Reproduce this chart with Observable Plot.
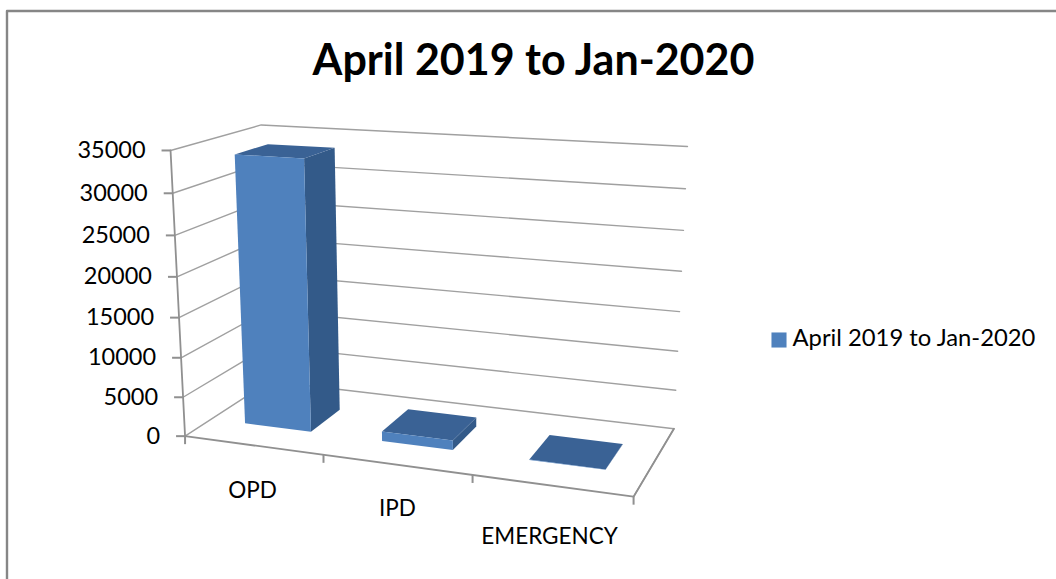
<!DOCTYPE html>
<html>
<head>
<meta charset="utf-8">
<script src="https://cdn.jsdelivr.net/npm/d3@7"></script>
<script src="https://cdn.jsdelivr.net/npm/@observablehq/plot@0.6"></script>
<style>html,body{margin:0;padding:0;background:#fff;overflow:hidden}svg{display:block}</style>
</head>
<body>
<div id="chart"></div>
<script>
const chartTitle = "April 2019 to Jan-2020";
const categories = ["OPD", "IPD", "EMERGENCY"];
const values = [33800, 1200, 60];
const valueTicks = [0, 5000, 10000, 15000, 20000, 25000, 30000, 35000];
const valueMax = 35000;

// Camera calibration: [category position, value, depth] -> picture position.
const camera = [
  [0, 0, 0, 184, 435.7], [1, 0, 0, 322.7, 455], [2, 0, 0, 472, 475], [3, 0, 0, 633, 496],
  [0, 35000, 0, 170, 150], [0, 30000, 0, 173, 192.7], [0, 25000, 0, 174, 235], [0, 20000, 0, 176.7, 276],
  [0, 5000, 0, 183, 396],
  [0, 0, 1, 269.7, 381], [3, 0, 1, 673, 428], [0, 35000, 1, 260, 124.5], [3, 35000, 1, 687, 146],
  [3, 30000, 1, 685, 188.5], [3, 25000, 1, 683, 230], [3, 20000, 1, 681, 271], [3, 15000, 1, 679, 311],
  [3, 10000, 1, 677.5, 351], [3, 5000, 1, 675.5, 389]
];
const barHalfWidth = 0.245, barFront = 0.29, barBack = 0.67;

// Least-squares projective fit of the calibration (11 parameters).
function fitCamera(pts) {
  const n = 11, A = d3.range(n).map(() => new Array(n + 1).fill(0));
  const add = (r, b) => { for (let i = 0; i < n; i++) { for (let j = 0; j < n; j++) A[i][j] += r[i] * r[j]; A[i][n] += r[i] * b; } };
  for (const [u, v0, w, x, y] of pts) {
    const v = v0 / valueMax;
    add([u, v, w, 1, 0, 0, 0, 0, -x * u, -x * v, -x * w], x);
    add([0, 0, 0, 0, u, v, w, 1, -y * u, -y * v, -y * w], y);
  }
  for (let i = 0; i < n; i++) {
    let p = i; for (let k = i + 1; k < n; k++) if (Math.abs(A[k][i]) > Math.abs(A[p][i])) p = k;
    [A[i], A[p]] = [A[p], A[i]];
    for (let k = 0; k < n; k++) if (k !== i) { const f = A[k][i] / A[i][i]; for (let j = i; j <= n; j++) A[k][j] -= f * A[i][j]; }
  }
  return A.map((r, i) => r[n] / r[i]);
}
const m = fitCamera(camera);
function project(u, v0, w) {
  const v = v0 / valueMax, d = m[8] * u + m[9] * v + m[10] * w + 1;
  return {x: (m[0] * u + m[1] * v + m[2] * w + m[3]) / d, y: (m[4] * u + m[5] * v + m[6] * w + m[7]) / d};
}
const seg = (id, pts) => pts.map(([u, v, w]) => ({id, ...project(u, v, w)}));

const walls = valueTicks.filter(t => t > 0).flatMap(t => seg("g" + t, [[0, t, 0], [0, t, 1], [3, t, 1]]));
const floorEdges = seg("b", [[0, 0, 0], [0, 0, 1], [3, 0, 1], [3, 0, 0]]);
const axisLines = [...seg("f", [[0, 0, 0], [3, 0, 0], [3, 0, 1]]), ...seg("v", [[0, 0, 0], [0, valueMax, 0]])];

const xTickMarks = [0, 1, 2, 3].map(u => { const p = project(u, 0, 0); return {x: p.x, y1: p.y, y2: p.y + 8}; });
const yTickMarks = valueTicks.map(t => { const p = project(0, t, 0); return {t, x1: p.x - 9, x2: p.x, y: p.y, lx: p.x - 25}; });
const catLabelPos = [[252, 490], [397, 508], [549, 536]];

const barFronts = [], barSides = [], barTops = [];
values.forEach((val, i) => {
  const u0 = i + 0.5 - barHalfWidth, u1 = i + 0.5 + barHalfWidth, a = barFront, b = barBack;
  barFronts.push(...seg("f" + i, [[u0, 0, a], [u1, 0, a], [u1, val, a], [u0, val, a], [u0, 0, a]]));
  barSides.push(...seg("s" + i, [[u1, 0, a], [u1, 0, b], [u1, val, b], [u1, val, a], [u1, 0, a]]));
  barTops.push(...seg("t" + i, [[u0, val, a], [u1, val, a], [u1, val, b], [u0, val, b], [u0, val, a]]));
});

const frame = [{x: 6.5, y: 1000}, {x: 6.5, y: 10.5}, {x: 1056, y: 10.5}];
const fontFamily = "Lato, 'Open Sans', sans-serif";

const plot = Plot.plot({
  width: 1056, height: 579, margin: 0,
  x: {domain: [0, 1056], range: [0, 1056], axis: null},
  y: {domain: [0, 579], range: [0, 579], axis: null},
  style: {fontFamily, background: "#fff"},
  marks: [
    Plot.line(frame, {x: "x", y: "y", stroke: "#868686", strokeWidth: 2.4}),
    Plot.line(walls, {x: "x", y: "y", z: "id", stroke: "#a0a0a0", strokeWidth: 1.4}),
    Plot.line(floorEdges, {x: "x", y: "y", z: "id", stroke: "#a0a0a0", strokeWidth: 1.4}),
    Plot.line(axisLines, {x: "x", y: "y", z: "id", stroke: "#909090", strokeWidth: 1.8}),
    Plot.link(xTickMarks, {x1: "x", x2: "x", y1: "y1", y2: "y2", stroke: "#909090", strokeWidth: 2}),
    Plot.link(yTickMarks, {x1: "x1", x2: "x2", y1: "y", y2: "y", stroke: "#909090", strokeWidth: 2}),
    Plot.line(barSides, {x: "x", y: "y", z: "id", fill: "#335a89", stroke: "none"}),
    Plot.line(barTops, {x: "x", y: "y", z: "id", fill: "#3a6295", stroke: "none"}),
    Plot.line(barFronts, {x: "x", y: "y", z: "id", fill: "#4f81bd", stroke: "none"}),
    Plot.text(yTickMarks, {x: "lx", y: "y", text: d => String(d.t), textAnchor: "end", fontSize: 23.5, fill: "#000"}),
    Plot.text(categories, {x: (d, i) => catLabelPos[i][0], y: (d, i) => catLabelPos[i][1], text: d => d, fontSize: 22.5, fill: "#000"}),
    Plot.text([chartTitle], {x: () => 533, y: () => 61, text: d => d, fontSize: 43, fontWeight: 700, fill: "#000"}),
    Plot.dot([chartTitle], {x: () => 778.5, y: () => 339.5, symbol: "square", r: 8.5, fill: "#4f81bd", stroke: "none"}),
    Plot.text([chartTitle], {x: () => 792, y: () => 338, text: d => d, textAnchor: "start", fontSize: 23.8, fill: "#000"})
  ]
});
document.getElementById("chart").append(plot);
</script>
</body>
</html>
